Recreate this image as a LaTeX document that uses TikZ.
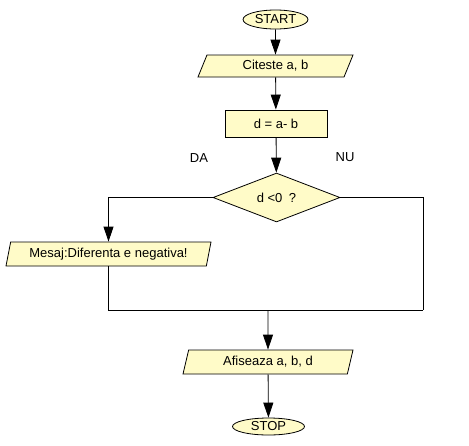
\documentclass[tikz,border=0pt]{standalone}
\usepackage{fontspec}
\setmainfont{Liberation Sans}
\usepackage{tikz}
\usetikzlibrary{shapes,positioning,calc}
\usetikzlibrary{shapes.geometric}
\usetikzlibrary{arrows.meta}
\definecolor{galben}{RGB}{255,251,200}
\tikzstyle{capat} = [ellipse, draw=black, fill=galben, inner sep=0pt, line width=0.8pt]
\tikzstyle{citire} = [trapezium, trapezium stretches body, draw=black, fill=galben, inner sep=0pt, line width=0.8pt]
\tikzstyle{calcul} = [rectangle, draw=black, fill=galben, inner sep=0pt, line width=0.8pt]
\tikzstyle{decizie} = [diamond, draw=black, fill=galben, inner sep=0pt, line width=0.8pt]
\tikzstyle{linie} = [line width=0.8pt]
\tikzstyle{sageata} = [line width=0.8pt,-{Triangle[length=15pt,width=10pt]}]

\begin{document}
\begin{tikzpicture}[x=1pt,y=-1pt,font=\fontsize{13}{15}\selectfont]
						\useasboundingbox (0,0) rectangle (469,445);
						\node (start) at (275.5,19.5) [capat, minimum width=65pt, minimum height=19pt] {START};
						\node (cit) at (275.5,66) [citire, trapezium left angle=51, trapezium right angle=129, minimum width=155pt, minimum height=22pt] {Citeste a, b};
						\node (dif) at (276,123.5) [calcul, minimum width=102pt, minimum height=27pt] {d = a- b};
						\node (dec) at (276.5,197.5) [decizie, minimum width=127pt, minimum height=45pt] {d {\textless}0\enspace ?};
						\node (da) at (199,158) {DA};
						\node (nu) at (345,157) {NU};
						\node (mesaj) at (108.5,254) [citire, trapezium left angle=69, trapezium right angle=111, minimum width=205pt, minimum height=24pt] {Mesaj:Diferenta e negativa!};
						\node (afis) at (268,362) [citire, trapezium left angle=63, trapezium right angle=117, minimum width=170pt, minimum height=24pt] {Afiseaza a, b, d};
						\node (stop) at (268.5,426.5) [capat, minimum width=72pt, minimum height=17pt] {STOP};
						\coordinate (dreapta) at (423,310);
						\coordinate (stanga) at (mesaj.south |- dreapta);
						\coordinate (unire) at (afis.north |- dreapta);
						\draw[sageata] (start) -- (cit);
						\draw[sageata] (cit) -- (dif);
						\draw[sageata] (dif) -- (dec);
						\draw[sageata] (dec.west) -| (mesaj.north);
						\draw[linie] (dec.east) -| (dreapta);
						\draw[linie] (mesaj.south) -- (stanga) -- (dreapta);
						\draw[sageata] (unire) -- (afis);
						\draw[sageata] (afis) -- (stop);
					\end{tikzpicture}
\end{document}
